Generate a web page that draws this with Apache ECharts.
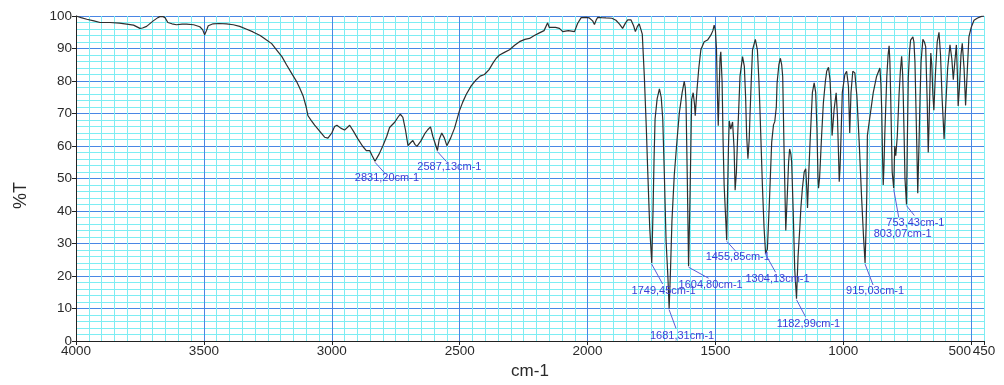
<!DOCTYPE html>
<html>
<head>
<meta charset="utf-8">
<script src="https://cdn.jsdelivr.net/npm/echarts@6/dist/echarts.min.js"></script>
<style>
html,body{margin:0;padding:0;background:#fff;}
#chart{width:1004px;height:385px;}
</style>
</head>
<body>
<div id="chart"></div>
<script>
// Spectrum (wavenumber in cm-1, transmittance in %T)
const wavenumber = [
4000,3980,3958,3930,3906,3867,3830,3802,3775,3750,3740,3724,3698,3680,3672,3660,3652,3641,3625,3607,
3585,3568,3540,3516,3505,3497,3490,3483,3464,3440,3412,3385,3360,3335,3308,3280,3255,3235,3216,3195,
3177,3158,3138,3125,3112,3100,3093,3080,3067,3050,3028,3015,3000,2989,2980,2965,2950,2930,2915,2898,
2880,2865,2852,2842,2831,2815,2800,2785,2774,2754,2740,2732,2722,2712,2702,2692,2683,2675,2667,2652,
2637,2625,2614,2605,2587,2580,2570,2560,2550,2535,2520,2501,2488,2474,2455,2435,2420,2403,2385,2370,
2357,2344,2325,2305,2285,2266,2245,2227,2208,2188,2170,2156,2150,2143,2125,2110,2097,2075,2051,2039,
2025,2019,2005,1993,1980,1973,1966,1960,1945,1928,1905,1889,1875,1863,1852,1843,1830,1820,1813,1805,
1798,1790,1786,1778,1770,1765,1757,1749,1744,1740,1736,1728,1719,1712,1706,1700,1693,1686,1681,1676,
1670,1661,1650,1641,1630,1622,1618,1615,1610,1605,1600,1598,1593,1587,1582,1579,1575,1572,1565,1557,
1544,1531,1518,1510,1505,1500,1496,1492,1489,1486,1482,1479,1474,1470,1466,1456,1452,1449,1446,1440,
1433,1427,1423,1418,1414,1404,1394,1387,1382,1378,1373,1368,1365,1360,1355,1344,1336,1330,1326,1316,
1310,1304,1300,1297,1290,1280,1273,1268,1262,1259,1252,1246,1241,1237,1232,1225,1219,1214,1210,1205,
1202,1196,1190,1183,1177,1170,1166,1160,1153,1147,1143,1140,1135,1130,1121,1114,1108,1103,1099,1097,
1093,1091,1085,1078,1070,1065,1058,1052,1047,1044,1040,1036,1028,1023,1019,1016,1013,1010,1004,994,
987,980,975,970,963,955,947,938,929,921,915,911,908,906,899,893,883,870,857,853,
850,847,844,841,838,830,825,821,818,815,809,803,799,795,789,782,777,772,768,766,
762,759,753,750,746,741,737,728,724,720,713,709,704,700,696,689,683,678,672,668,
665,662,658,654,650,646,640,633,626,620,614,606,600,592,583,576,570,564,558,554,
551,546,540,535,528,522,516,509,500,489,475,460,450
];
const transmittance = [
100,99.5,99,98.5,98,98,97.8,97.5,97.2,96.2,96.3,96.8,98.5,99.5,99.8,99.8,99.5,98,97.6,97.3,
97.5,97.5,97.3,96.7,95.8,94.2,95.5,97,97.6,97.7,97.6,97.3,96.8,96,95.1,94,92.6,91.5,89.6,87.5,
85,82.5,79.9,77.8,75.4,72,69.3,67.8,66.4,64.8,62.7,62.4,64,66,66.4,65.5,64.9,66.4,64.5,62.2,
60,58.6,58.6,57,55.3,57.5,60.1,63,65.7,67.3,69,69.8,68.8,65,60.1,61,61.7,60.5,59.9,61.5,
63.7,65,65.9,63,58.6,62,64,62.5,60.1,62.5,65.5,70.8,73.5,75.9,78.5,80.4,81.5,82,83.5,85.5,
87,88,88.8,89.6,91,92.1,92.8,93.1,94,94.8,95.5,97.9,96.5,96.8,96.5,96.2,95.2,95.5,95.2,97.7,
99.5,99.8,99.6,99.4,98.5,97.4,98.8,99.6,99.5,99.4,99.3,98.7,97.5,96.2,97.8,98.8,98.8,97,95.2,96.8,
97.6,95.5,94.4,81.4,65,53,35,24,40,56,68.3,74.5,77.6,75,68.3,52,30.8,20,10,21,
37,51,62,70.3,76.5,79.9,78,73.3,50,23,42,51,74.3,76.4,73,69.3,74,77.4,84,89.6,
92.1,92.6,94.1,95.5,97.2,95.5,90,75,66.2,75,87,89,80,61.2,48,31,48,60,67.7,65.2,
67.4,59.1,46.4,52,61.2,81.4,87.5,84.5,75,63.2,56.1,62,69.3,80,89.6,92.8,89.6,80,71.3,47,
35,27,26.5,28.2,40.9,61.2,66.5,67.5,72,79.4,85,87,85,81.4,60,34,44.9,55,59.1,57.5,
55.1,40,22,13,26,35,40.9,47,52,53,47,40.9,52,61.2,76.4,79.4,76.4,65,50,47,
50,53,63,73.3,80,83,84.2,80.4,72,63.2,67,71.3,76.4,69.3,58,49,53,60.1,76.4,82,
83,78.4,64,76.4,83,82.5,75.4,61.2,44.9,32,24,35,46,63.2,67.3,67.6,76.4,81.4,84,79,
71.3,58,48,54,63.2,81.4,88,90.8,86,76,52,47,60,57,63,76,83,87.6,82,76.4,
62,50,42,60,81,89,92.6,93.6,92,86,61,45.5,61,75,86,92.8,92,90.6,73.3,58,
66,76.4,88.6,85,76,71,82,92,95,88,75,62.2,72,84,91.1,87,80.4,86,91.1,82,
72.3,78,88,91.6,84,72.5,82,93.6,96.5,98.7,99.4,99.9,100
];

// Annotated peaks
const peakWavenumbers = [2831.20, 2587.13, 1749.45, 1681.31, 1604.80, 1455.85, 1304.13, 1182.99, 915.03, 803.07, 753.43];
const peakTransmittance = [55.3, 58.6, 24, 10, 23, 31, 27, 13, 24, 47, 42];
const peakLabels = ['2831,20cm-1','2587,13cm-1','1749,45cm-1','1681,31cm-1','1604,80cm-1','1455,85cm-1','1304,13cm-1','1182,99cm-1','915,03cm-1','803,07cm-1','753,43cm-1'];

// Tick labels
const xTickLabels = [4000, 3500, 3000, 2500, 2000, 1500, 1000, 500, 450];
const yTickLabels = [0, 10, 20, 30, 40, 50, 60, 70, 80, 90, 100];

// leader line end (dx,dy) and label centre (dx,dy), in pixels from the peak
const annotLayout = [
  [10,12,12,17],[9,11,12,16],[11,21,12,28],[7,20,13,27],[20,12,22,19],[9,11,11,17],
  [10,19,12,26],[9,18,12,25],[8,22,10,28],[5,29,9,46],[8,11,9,18]
];

const MAJOR = '#4a86e4';
const MINOR = '#7eedf3';

const xMinorColors = [];
for (let i = 0; i < 10; i++) xMinorColors.push(i === 1 ? MAJOR : MINOR);
const yMinorColors = [MAJOR, MINOR, MINOR, MINOR, MINOR];

const spectrum = wavenumber.map((w, i) => [w, transmittance[i]]);
const peaks = peakWavenumbers.map((w, i) => [w, peakTransmittance[i], i]);

const labelFont = {fontFamily: 'Liberation Sans', fontSize: 13.5, color: '#2a2a2a'};

const chart = echarts.init(document.getElementById('chart'), null, {renderer: 'canvas'});
chart.setOption({
  animation: false,
  backgroundColor: '#ffffff',
  grid: {left: 76, right: 20, top: 16, bottom: 41},
  xAxis: [
    {
      type: 'value', inverse: true, min: 450, max: 4000, interval: 50,
      axisLine: {show: false}, axisTick: {show: false}, axisLabel: {show: false},
      splitLine: {show: true, lineStyle: {color: xMinorColors, width: 1}}
    },
    {
      type: 'value', inverse: true, min: 450, max: 4000, position: 'bottom',
      axisLine: {show: true, onZero: false, lineStyle: {color: '#222', width: 1}},
      axisTick: {show: true, length: 4, customValues: xTickLabels, lineStyle: {color: '#222'}},
      axisLabel: {
        show: true, customValues: xTickLabels, margin: 3, ...labelFont,
        formatter: v => v === 500 ? '{a|500}' : String(v),
        rich: {a: {padding: [0, 23, 0, 0], ...labelFont}}
      },
      splitLine: {show: false},
      name: 'cm-1', nameLocation: 'middle', nameGap: 22,
      nameTextStyle: {fontFamily: 'Liberation Sans', fontSize: 17, color: '#2a2a2a'}
    }
  ],
  yAxis: [
    {
      type: 'value', min: 0, max: 100, interval: 2,
      axisLine: {show: false}, axisTick: {show: false}, axisLabel: {show: false},
      splitLine: {show: true, lineStyle: {color: yMinorColors, width: 1}}
    },
    {
      type: 'value', min: 0, max: 100, interval: 10, position: 'left',
      axisLine: {show: true, onZero: false, lineStyle: {color: '#222', width: 1}},
      axisTick: {show: true, length: 4, lineStyle: {color: '#222'}},
      axisLabel: {show: true, margin: 4, ...labelFont,
        formatter: v => yTickLabels.includes(v) ? String(v) : ''},
      splitLine: {show: false},
      name: '%T', nameLocation: 'middle', nameGap: 46, nameRotate: 90,
      nameTextStyle: {fontFamily: 'Liberation Sans', fontSize: 18, color: '#2a2a2a', padding: [0, 34, 0, 0]}
    }
  ],
  series: [
    {
      type: 'line', xAxisIndex: 0, yAxisIndex: 0, data: spectrum,
      showSymbol: false, symbol: 'none', smooth: false,
      lineStyle: {color: '#2e2e2e', width: 1.2}, z: 3
    },
    {
      type: 'custom', xAxisIndex: 0, yAxisIndex: 0, data: peaks, z: 4,
      renderItem: (params, api) => {
        const idx = params.dataIndex;
        const p = api.coord([api.value(0), api.value(1)]);
        const o = annotLayout[idx];
        return {
          type: 'group',
          children: [
            {type: 'line', shape: {x1: p[0], y1: p[1] + 1, x2: p[0] + o[0], y2: p[1] + o[1]},
             style: {stroke: '#5a5ad6', lineWidth: 1}},
            {type: 'text', x: p[0] + o[2], y: p[1] + o[3],
             style: {text: peakLabels[idx], fill: '#3c3cd6', fontSize: 11, fontFamily: 'Liberation Sans',
                     align: 'center', verticalAlign: 'middle'}}
          ]
        };
      }
    }
  ]
});
</script>
</body>
</html>
